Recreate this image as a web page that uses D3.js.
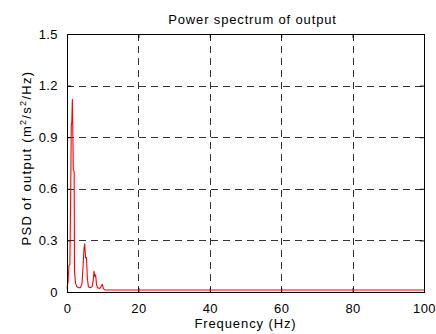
<!DOCTYPE html>
<html>
<head>
<meta charset="utf-8">
<script src="https://cdn.jsdelivr.net/npm/d3@7"></script>
<style>
  html, body { margin: 0; padding: 0; background: #fff; }
  svg { display: block; }
  text { font-family: "Liberation Sans", Arial, Helvetica, sans-serif; fill: #000; }
</style>
</head>
<body>
<svg id="chart" width="436" height="334"></svg>
<script>
// Data
const freq = [0, 0.3, 0.55, 0.8, 1.0, 1.2, 1.35, 1.5, 1.65, 1.77, 2.0, 2.1, 2.4, 2.8, 3.3, 3.8, 4.2, 4.5, 4.75, 4.95, 5.2, 5.45, 5.7, 6.0, 6.5, 7.0, 7.3, 7.56, 7.8, 8.0, 8.3, 8.6, 9.1, 9.5, 9.9, 10.2, 10.6, 12, 30, 60, 100];
const psd  = [0.02, 0.06, 0.155, 0.16, 0.5, 0.97, 0.99, 1.12, 0.9, 0.71, 0.7, 0.12, 0.05, 0.03, 0.025, 0.025, 0.05, 0.15, 0.25, 0.28, 0.2, 0.2, 0.08, 0.03, 0.025, 0.03, 0.06, 0.12, 0.09, 0.1, 0.04, 0.025, 0.02, 0.03, 0.045, 0.02, 0.012, 0.012, 0.012, 0.012, 0.012];
const xTicks = [0, 20, 40, 60, 80, 100];
const yTicks = [0, 0.3, 0.6, 0.9, 1.2, 1.5];
const titleText = "Power spectrum of output";
const xLabel = "Frequency (Hz)";

const svg = d3.select("#chart");
const L = 67, R = 424, T = 34, B = 292;
const x = d3.scaleLinear().domain([0, 100]).range([L, R]);
const y = d3.scaleLinear().domain([0, 1.5]).range([B, T]);

// Grid lines
const grid = svg.append("g").attr("stroke", "#333").attr("stroke-width", 1)
  .attr("stroke-dasharray", "7,5").attr("shape-rendering", "crispEdges");
grid.selectAll(".gx").data(xTicks.filter(d => d > 0 && d < 100)).enter().append("line")
  .attr("x1", d => Math.round(x(d)) + 0.5).attr("x2", d => Math.round(x(d)) + 0.5)
  .attr("y1", T).attr("y2", B);
grid.selectAll(".gy").data(yTicks.filter(d => d > 0 && d < 1.5)).enter().append("line")
  .attr("y1", d => Math.round(y(d)) + 0.5).attr("y2", d => Math.round(y(d)) + 0.5)
  .attr("x1", L).attr("x2", R);

// Axes (ticks inward)
const fmtY = d => d === 0 ? "0" : d3.format(".1f")(d);
const axB = svg.append("g").attr("transform", `translate(0,${B})`)
  .call(d3.axisBottom(x).tickValues(xTicks).tickSizeInner(-4).tickSizeOuter(0).tickPadding(12).tickFormat(d3.format("d")));
const axT = svg.append("g").attr("transform", `translate(0,${T})`)
  .call(d3.axisTop(x).tickValues(xTicks).tickSizeInner(-4).tickSizeOuter(0).tickFormat(""));
const axL = svg.append("g").attr("transform", `translate(${L},0)`)
  .call(d3.axisLeft(y).tickValues(yTicks).tickSizeInner(-4).tickSizeOuter(0).tickPadding(9).tickFormat(fmtY));
const axR = svg.append("g").attr("transform", `translate(${R},0)`)
  .call(d3.axisRight(y).tickValues(yTicks).tickSizeInner(-4).tickSizeOuter(0).tickFormat(""));
[axB, axT, axL, axR].forEach(a => {
  a.selectAll(".domain").remove();
  a.selectAll("line").attr("stroke", "#000");
  a.selectAll("text").attr("font-size", 13).attr("letter-spacing", 0.4)
    .attr("font-family", "Liberation Sans, Arial, sans-serif").attr("fill", "#000");
});

// Spectrum line
const line = d3.line().x((d, i) => x(freq[i])).y((d, i) => y(psd[i]));
svg.append("path").datum(psd).attr("d", line)
  .attr("fill", "none").attr("stroke", "#ff0000").attr("stroke-width", 1.1).attr("stroke-linejoin", "round");

// Box
svg.append("rect").attr("x", L + 0.5).attr("y", T + 0.5).attr("width", R - L).attr("height", B - T)
  .attr("fill", "none").attr("stroke", "#000").attr("stroke-width", 1).attr("shape-rendering", "crispEdges");

// Title
svg.append("text").attr("x", (L + R) / 2 + 7).attr("y", 24).attr("text-anchor", "middle")
  .attr("font-size", 13).attr("letter-spacing", 0.85).text(titleText);

// X label
svg.append("text").attr("x", (L + R) / 2).attr("y", 328).attr("text-anchor", "middle")
  .attr("font-size", 13).attr("letter-spacing", 0.9).text(xLabel);

// Y label with superscripts
const yl = svg.append("text").attr("transform", `translate(31,158) rotate(-90)`)
  .attr("text-anchor", "middle").attr("font-size", 13).attr("letter-spacing", 1.3);
yl.append("tspan").text("PSD of output (m");
yl.append("tspan").attr("font-size", 9).attr("dy", -5).text("2");
yl.append("tspan").attr("dy", 5).text("/s");
yl.append("tspan").attr("font-size", 9).attr("dy", -5).text("2");
yl.append("tspan").attr("dy", 5).text("/Hz)");
</script>
</body>
</html>
